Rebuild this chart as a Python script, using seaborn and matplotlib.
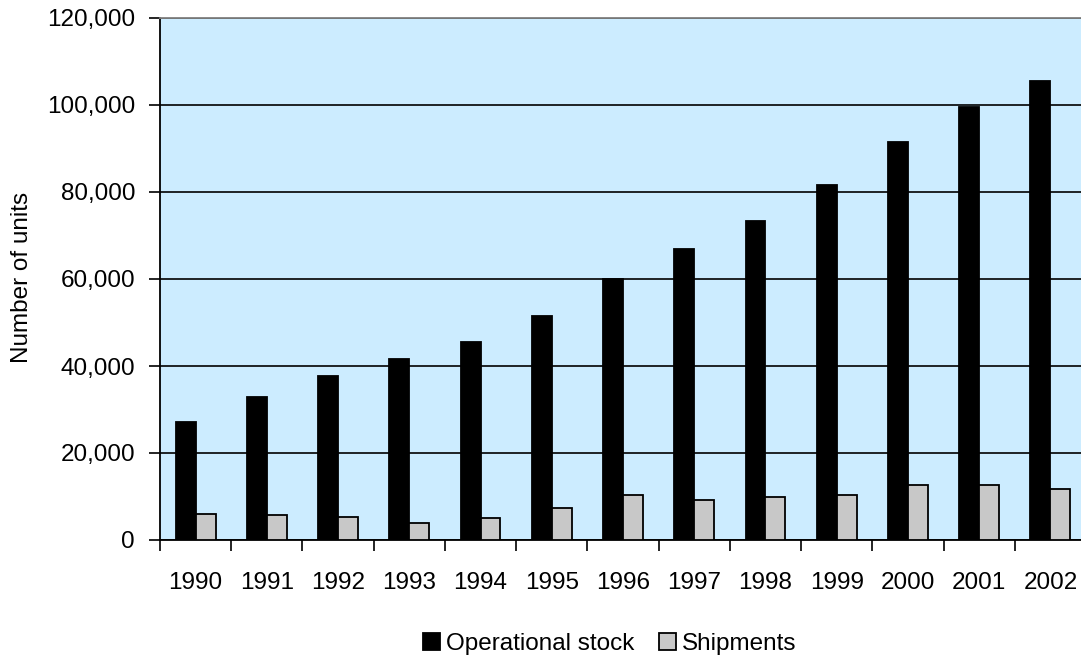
import matplotlib
matplotlib.use("Agg")
import matplotlib.pyplot as plt
import matplotlib.ticker as mticker
import pandas as pd
import seaborn as sns

years = ["1990", "1991", "1992", "1993", "1994", "1995", "1996",
         "1997", "1998", "1999", "2000", "2001", "2002"]
operational_stock = [27200, 32800, 37700, 41600, 45600, 51600, 60000,
                     66900, 73300, 81600, 91400, 99500, 105500]
shipments = [5900, 5800, 5400, 4000, 5100, 7300, 10400,
             9100, 9900, 10400, 12700, 12700, 11800]
series_names = ["Operational stock", "Shipments"]

df = pd.DataFrame({
    "year": years * 2,
    "units": operational_stock + shipments,
    "series": [series_names[0]] * len(years) + [series_names[1]] * len(years),
})

sns.set_style("white")
plt.rcParams["font.family"] = ["Liberation Sans", "DejaVu Sans"]
plt.rcParams["text.color"] = "black"
plt.rcParams["xtick.color"] = "black"
plt.rcParams["ytick.color"] = "black"
plt.rcParams["axes.labelcolor"] = "black"

W, H = 1081, 664
fig = plt.figure(figsize=(W / 100, H / 100), dpi=100)
ax = fig.add_axes([160 / W, 1 - 540 / H, 926 / W, 522 / H])
ax.set_facecolor("#CCECFF")

sns.barplot(data=df, x="year", y="units", hue="series", ax=ax,
            palette=["#000000", "#C8C8C8"], width=0.56,
            edgecolor="black", linewidth=1.3, saturation=1, zorder=3)

ax.set_xlim(-0.5, len(years) - 0.5)
ax.set_ylim(0, 120000)
ax.yaxis.set_major_locator(mticker.MultipleLocator(20000))
ax.yaxis.set_major_formatter(mticker.StrMethodFormatter("{x:,.0f}"))
ax.grid(axis="y", color="black", linewidth=1.2, zorder=1)
ax.set_axisbelow(True)

# category boundary ticks below the axis, labels without ticks
ax.set_xticks([i - 0.5 for i in range(len(years) + 1)], minor=True)
ax.tick_params(axis="x", which="minor", length=8, width=1.2, color="black",
               direction="out", bottom=True)
ax.tick_params(axis="x", which="major", length=0, pad=23, labelsize=17.5)
ax.tick_params(axis="y", length=8, width=1.2, color="black", direction="out",
               left=True, pad=10, labelsize=17.5)

for side in ["left", "bottom"]:
    ax.spines[side].set_color("black")
    ax.spines[side].set_linewidth(1.3)
ax.spines["top"].set_color("#808080")
ax.spines["top"].set_linewidth(1.3)
ax.spines["right"].set_visible(False)

ax.set_xlabel("")
ax.set_ylabel("")
fig.text(22 / W, 1 - 277 / H, "Number of units", rotation=90,
         ha="center", va="center", fontsize=17.5)

handles, labels = ax.get_legend_handles_labels()
ax.legend(handles, labels, loc="center", bbox_to_anchor=(610 / W, 1 - 644 / H),
          bbox_transform=fig.transFigure, ncol=2, frameon=False, fontsize=17.5,
          handlelength=0.7, handleheight=0.7, handletextpad=0.25,
          columnspacing=1.0)

fig.savefig("out.png", dpi=100)
